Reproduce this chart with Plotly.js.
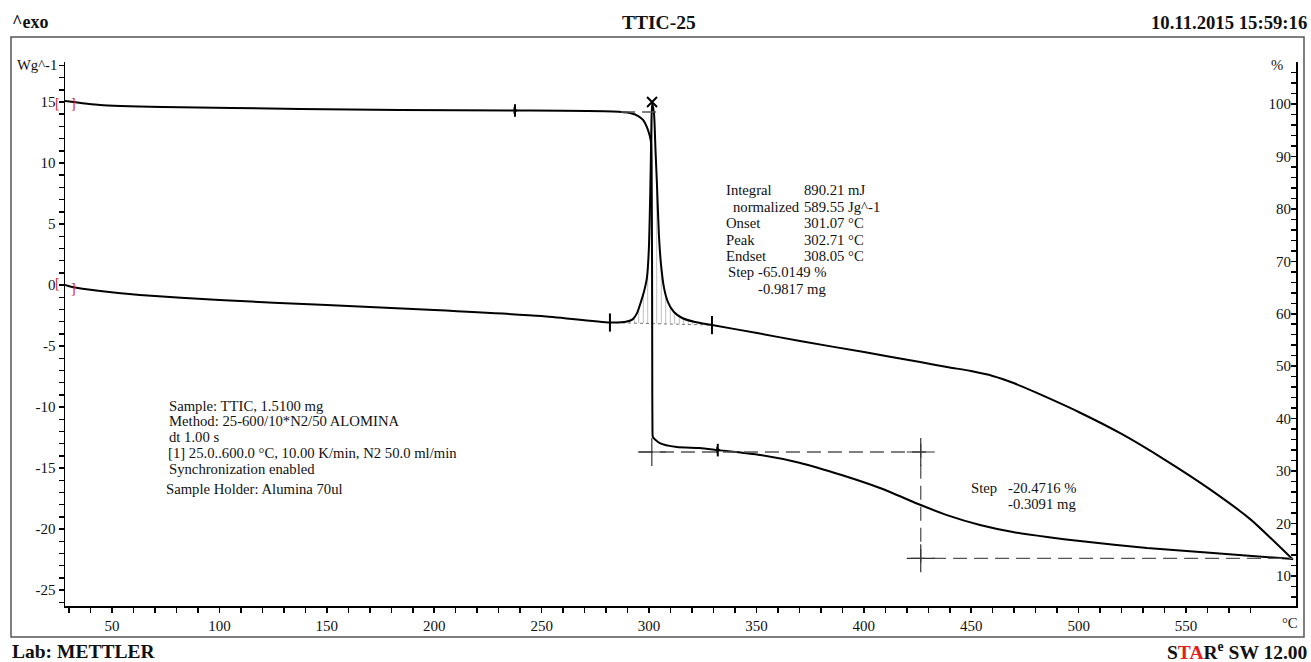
<!DOCTYPE html>
<html><head><meta charset="utf-8">
<script src="https://cdn.plot.ly/plotly-3.0.1.min.js"></script>
<style>html,body{margin:0;padding:0;background:#fff}#chart{width:1311px;height:662px}</style>
</head><body><div id="chart"></div>
<script>
// ---- data ----
const tgaT   = [28.1, 44.4, 73.7, 137.5, 184.1, 237.6, 283.2, 291.1, 295.0, 297.2, 299.5, 300.9, 301.2, 301.4, 301.5, 301.6, 301.8, 305.0, 312.9, 323.6, 332.0, 351.7, 370.0, 390.0, 407.5, 426.5, 438.7, 454.1, 469.4, 485.3, 500.6, 531.8, 562.6, 593.8, 599.8];
const tgaPct = [100.57, 99.81, 99.43, 99.05, 98.86, 98.76, 98.57, 98.28, 97.7, 96.95, 95.04, 92.75, 85.0, 70.0, 50.0, 37.8, 36.5, 35.35, 34.6, 34.4, 34.0, 33.07, 31.6, 29.2, 26.77, 23.53, 21.6, 19.72, 18.38, 17.43, 16.67, 15.33, 14.38, 13.43, 13.24];

const dscT = [28.1, 31.4, 44.5, 63.0, 100, 150, 200, 250, 281.8, 289.7, 292.5, 294.4, 296.2, 297.6, 299.0, 299.9, 300.6, 301.0, 301.4, 302.3, 303.0, 303.7, 304.6, 305.6, 307.0, 308.8, 311.6, 315.4, 321.4, 329.3, 350.3, 370.3, 400.1, 426.2, 440.0, 449.9, 460.0, 470.0, 480.0, 500.0, 520.0, 540.0, 560.0, 580.0, 599.8];
const dscW = [0.0, -0.16, -0.49, -0.82, -1.23, -1.64, -2.05, -2.54, -3.07, -2.99, -2.79, -2.3, -1.39, -0.57, 0.57, 2.87, 7.8, 11.9, 14.9, 14.1, 11.1, 8.2, 4.1, 1.64, -0.25, -1.39, -2.21, -2.7, -3.03, -3.28, -3.93, -4.59, -5.49, -6.31, -6.75, -7.05, -7.45, -8.05, -8.8, -10.4, -12.2, -14.3, -16.6, -19.2, -22.5];

// evaluation limits / results
const tgaLimitT = [237.6, 332.0];
const tgaLimitPct = [98.76, 34.0];
const dscLimitT = [281.8, 329.3];
const dscLimitW = [-3.07, -3.28];
const peakT = [301.4];
const peakW = [15.0];
const step1Pct = [98.47, 33.64];
const step1T = 301.3;
const step2Pct = [33.64, 13.37];
const step2T = 426.5;
const upperDashT = [287, 306];
const midDashT = [295.3, 431];
const lowDashT = [422, 599.8];
const vertDashPct = [35.2, 11.9];

// tick labels
const xTicks = [50, 100, 150, 200, 250, 300, 350, 400, 450, 500, 550];
const dscTicks = [-25, -20, -15, -10, -5, 0, 5, 10, 15];
const tgaTicks = [10, 20, 30, 40, 50, 60, 70, 80, 90, 100];

// ---- layout helpers ----
const L = 65, R = 1296, T = 62, B = 606;
const px = x => (x - L) / (R - L);
const py = y => (B - y) / (B - T);
const FONT = 'Liberation Serif, Times New Roman, serif';
const ink = '#111';

// integration segment
const segT = [dscLimitT[0]], segW = [dscLimitW[0]];
dscT.forEach((t, i) => { if (t > dscLimitT[0] && t < dscLimitT[1]) { segT.push(t); segW.push(dscW[i]); } });
segT.push(dscLimitT[1]); segW.push(dscLimitW[1]);

const dashStyle = {color: '#555', width: 1.3, dash: '14px,7px'};
const curveLine = {color: '#000', width: 2, shape: 'spline', smoothing: 0.6};
const traces = [
  {x: dscLimitT, y: dscLimitW, mode: 'lines', line: {color: '#777', width: 1, dash: 'dot'}, hoverinfo: 'skip'},
  {x: segT, y: segW, mode: 'lines', line: {width: 0, shape: 'spline', smoothing: 0.6}, fill: 'tonexty', fillcolor: 'rgba(0,0,0,0)',
   fillpattern: {shape: '|', size: 4.5, solidity: 0.12, fgcolor: '#888', bgcolor: 'rgba(0,0,0,0)'}, hoverinfo: 'skip'},
  {x: dscT, y: dscW, mode: 'lines', line: curveLine},
  {x: tgaT, y: tgaPct, yaxis: 'y2', mode: 'lines', line: curveLine},
  // step evaluation lines (TGA)
  {x: upperDashT, y: [step1Pct[0], step1Pct[0]], yaxis: 'y2', mode: 'lines', line: dashStyle},
  {x: midDashT, y: [step1Pct[1], step1Pct[1]], yaxis: 'y2', mode: 'lines', line: dashStyle},
  {x: lowDashT, y: [step2Pct[1], step2Pct[1]], yaxis: 'y2', mode: 'lines', line: dashStyle},
  {x: [step2T, step2T], y: vertDashPct, yaxis: 'y2', mode: 'lines', line: dashStyle},
  {x: [step1T, step2T, step2T], y: [step1Pct[1], step2Pct[0], step2Pct[1]], yaxis: 'y2', mode: 'markers',
   marker: {symbol: 'cross-thin-open', size: 20, color: '#333', line: {color: '#333', width: 1.2}}},
  // limit markers
  {x: dscLimitT, y: dscLimitW, mode: 'markers', marker: {symbol: 'line-ns-open', size: 13, color: '#000', line: {color: '#000', width: 2}}},
  {x: tgaLimitT, y: tgaLimitPct, yaxis: 'y2', mode: 'markers', marker: {symbol: 'line-ns-open', size: 9, color: '#000', line: {color: '#000', width: 2}}},
  {x: tgaLimitT, y: tgaLimitPct, yaxis: 'y2', mode: 'markers', marker: {symbol: 'triangle-right', size: 6, color: '#000'}},
  {x: peakT, y: peakW, mode: 'markers', marker: {symbol: 'x-thin-open', size: 10, color: '#000', line: {color: '#000', width: 2}}}
];

const ann = [];
function txt(text, x, y, opts) {
  ann.push(Object.assign({text: text, xref: 'paper', yref: 'paper', x: px(x), y: py(y), xanchor: 'left', yanchor: 'middle',
    showarrow: false, borderpad: 0, font: {family: FONT, size: 14.7, color: ink}}, opts || {}));
}
// header / footer
txt('<b>^exo</b>', 11, 22, {font: {family: FONT, size: 18, color: ink}});
txt('<b>TTIC-25</b>', 659, 22, {xanchor: 'center', font: {family: FONT, size: 19.5, color: ink}});
txt('<b>10.11.2015 15:59:16</b>', 1308, 22, {xanchor: 'right', font: {family: FONT, size: 18.7, color: ink}});
txt('<b>Lab: METTLER</b>', 11, 651, {font: {family: FONT, size: 19.5, color: ink}});
txt('<b>S<span style="color:#e0201b">TA</span>R<sup>e</sup> SW 12.00</b>', 1308, 651, {xanchor: 'right', font: {family: FONT, size: 19.5, color: ink}});
// axis unit labels
txt('Wg^-1', 58, 65, {xanchor: 'right'});
txt('%', 1284, 65, {xanchor: 'right'});
txt('°C', 1290, 623, {xanchor: 'center'});
// red start brackets
[[57, 104, '['], [73, 104, ']'], [57, 283, '['], [73, 288, ']']].forEach(b =>
  txt(b[2], b[0], b[1], {xanchor: 'center', font: {family: FONT, size: 14, color: '#e0201b'}}));
// DSC / TGA results
txt('Integral', 725, 190); txt('890.21 mJ', 803, 190);
txt('normalized', 732, 207); txt('589.55 Jg^-1', 803, 207);
txt('Onset', 725, 223); txt('301.07 °C', 803, 223);
txt('Peak', 725, 240); txt('302.71 °C', 803, 240);
txt('Endset', 725, 256); txt('308.05 °C', 803, 256);
txt('Step', 727, 272); txt('-65.0149 %', 757, 272);
txt('-0.9817 mg', 757, 289);
// method block
txt('Sample: TTIC, 1.5100 mg', 168, 406);
txt('Method: 25-600/10*N2/50 ALOMINA', 168, 421);
txt('dt 1.00 s', 168, 437);
txt('[1] 25.0..600.0 °C, 10.00 K/min, N2 50.0 ml/min', 167, 453);
txt('Synchronization enabled', 168, 469);
txt('Sample Holder: Alumina 70ul', 165, 489);
// second step
txt('Step', 970, 488); txt('-20.4716 %', 1007, 488); txt('-0.3091 mg', 1007, 504);

const tickFont = {family: FONT, size: 15, color: ink};
const layout = {
  width: 1311, height: 662,
  margin: {l: L, r: 1311 - R, t: T, b: 662 - B, pad: 0},
  paper_bgcolor: '#fff', plot_bgcolor: '#fff',
  showlegend: false,
  xaxis: {range: [28.1, 601.2], showgrid: false, zeroline: false, showline: true, linecolor: '#000', linewidth: 1.5,
    tickvals: xTicks, ticktext: xTicks.map(String), ticks: 'outside', ticklen: 5, tickwidth: 1.5, tickcolor: '#000',
    minor: {dtick: 10, tick0: 0, ticks: 'outside', ticklen: 5, tickwidth: 1.5, tickcolor: '#000'},
    tickfont: tickFont, fixedrange: true},
  yaxis: {range: [-26.3, 18.28], showgrid: false, zeroline: false, showline: true, linecolor: '#000', linewidth: 1.5,
    tickvals: dscTicks, ticktext: dscTicks.map(String), ticks: 'outside', ticklen: 5, tickwidth: 1.5, tickcolor: '#000',
    minor: {dtick: 1, tick0: 0, ticks: 'outside', ticklen: 5, tickwidth: 1.5, tickcolor: '#000'},
    tickfont: tickFont, fixedrange: true},
  yaxis2: {range: [4.28, 108.0], overlaying: 'y', side: 'right', anchor: 'x', showgrid: false, zeroline: false,
    showline: true, linecolor: '#000', linewidth: 1.5,
    tickvals: tgaTicks, ticktext: tgaTicks.map(String), ticks: 'inside', ticklen: 5, tickwidth: 1.5, tickcolor: '#000',
    ticklabelposition: 'inside',
    minor: {dtick: 2, tick0: 0, ticks: 'inside', ticklen: 5, tickwidth: 1.5, tickcolor: '#000'},
    tickfont: tickFont, fixedrange: true},
  shapes: [{type: 'rect', xref: 'paper', yref: 'paper', x0: px(11), x1: px(1304), y0: py(637), y1: py(37),
    line: {color: '#555', width: 1.5}, fillcolor: 'rgba(0,0,0,0)', layer: 'below'}],
  annotations: ann
};
Plotly.newPlot('chart', traces, layout, {displayModeBar: false, staticPlot: true});
</script>
</body></html>
